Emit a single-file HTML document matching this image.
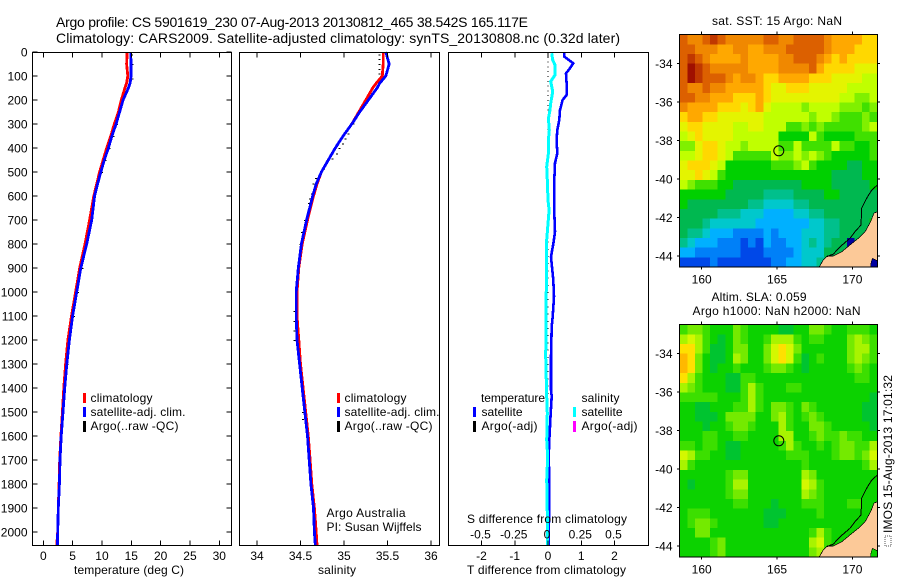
<!DOCTYPE html>
<html lang="en">
<head>
<meta charset="utf-8">
<title>Argo profile 5901619_230</title>
<style>
html,body{margin:0;padding:0;background:#fff;}
svg{display:block;font-family:"Liberation Sans",Arial,sans-serif;font-size:12px;fill:#000;}
text{fill:#000;}
</style>
</head>
<body>
<svg id="fig" width="900" height="580" viewBox="0 0 900 580" xmlns="http://www.w3.org/2000/svg">
<rect width="900" height="580" fill="#fff"/>
<text x="56" y="27" font-size="14" textLength="472">Argo profile: CS 5901619_230 07-Aug-2013 20130812_465 38.542S 165.117E</text>
<text x="56" y="43" font-size="14" textLength="564">Climatology: CARS2009. Satellite-adjusted climatology: synTS_20130808.nc (0.32d later)</text>
<g id="plots"></g>

<text x="74" y="574" textLength="110">temperature (deg C)</text>
<text x="318" y="574" textLength="38">salinity</text>
<text x="467" y="574" textLength="159">T difference from climatology</text>
<text x="467" y="523" textLength="160">S difference from climatology</text>

<g>
<rect x="83" y="393" width="3" height="10" fill="#f00"/>
<text x="90.5" y="402" textLength="62">climatology</text>
<rect x="83" y="407" width="3" height="10" fill="#00f"/>
<text x="90.5" y="416" textLength="95">satellite-adj. clim.</text>
<rect x="83" y="421" width="3" height="11" fill="#000"/>
<text x="90.5" y="430" textLength="88">Argo(..raw -QC)</text>
</g>
<g>
<rect x="337" y="393" width="3" height="10" fill="#f00"/>
<text x="344.5" y="402" textLength="62">climatology</text>
<rect x="337" y="407" width="3" height="10" fill="#00f"/>
<text x="344.5" y="416" textLength="95">satellite-adj. clim.</text>
<rect x="337" y="421" width="3" height="11" fill="#000"/>
<text x="344.5" y="430" textLength="88">Argo(..raw -QC)</text>
</g>
<g>
<text x="481" y="402" textLength="64">temperature</text>
<rect x="473" y="407" width="3" height="10" fill="#00f"/>
<text x="481.5" y="416" textLength="41">satellite</text>
<rect x="473" y="421" width="3" height="11" fill="#000"/>
<text x="481.5" y="430" textLength="56">Argo(-adj)</text>
<text x="581.5" y="402" textLength="38">salinity</text>
<rect x="573" y="407" width="3" height="10" fill="#0ff"/>
<text x="581.5" y="416" textLength="41">satellite</text>
<rect x="573" y="421" width="3" height="11" fill="#f0f"/>
<text x="581.5" y="430" textLength="56">Argo(-adj)</text>
</g>

<text x="326.5" y="517" textLength="79">Argo Australia</text>
<text x="326.5" y="531" textLength="95">PI: Susan Wijffels</text>

<text x="712" y="25" textLength="130">sat. SST: 15 Argo: NaN</text>
<text x="711.5" y="301" textLength="95">Altim. SLA: 0.059</text>
<text x="692.5" y="315" textLength="168">Argo h1000: NaN h2000: NaN</text>

<rect x="885" y="536" width="6" height="10" fill="none" stroke="#555" stroke-width="1" stroke-dasharray="1 1"/>
<text transform="translate(892,533) rotate(-90)" textLength="158">IMOS 15-Aug-2013 17:01:32</text>
</svg>

<script>
// ---- profile data ----
const profDepth = [0,50,100,130,150,200,250,300,350,400,450,500,550,600,700,800,900,1000,1100,1200,1300,1400,1500,1600,1700,1800,1900,2000,2054];
const tempClim = [14.3,14.2,14.4,14.2,13.9,13.3,12.8,12.1,11.5,10.8,10.2,9.6,9.1,8.6,7.9,7.1,6.2,5.5,4.8,4.2,3.8,3.5,3.25,3.0,2.8,2.7,2.55,2.45,2.3];
const tempSat = [14.9,14.95,14.95,14.8,14.5,13.6,13.0,12.4,11.7,11.1,10.4,9.8,9.25,8.75,8.25,7.4,6.4,5.7,5.0,4.45,4.0,3.65,3.35,3.05,2.85,2.75,2.55,2.45,2.4];
const salClim = [35.45,35.45,35.44,35.37,35.33,35.25,35.17,35.09,34.99,34.9,34.82,34.74,34.69,34.65,34.58,34.52,34.48,34.46,34.46,34.48,34.5,34.53,34.56,34.59,34.61,34.63,34.66,34.68,34.69];
const salSat = [35.48,35.52,35.48,35.41,35.38,35.28,35.18,35.09,34.99,34.9,34.82,34.74,34.68,34.64,34.57,34.51,34.475,34.45,34.45,34.46,34.49,34.52,34.55,34.58,34.6,34.62,34.65,34.66,34.67];

const argoTempDepth = [10,50,110,130,160,240,300,350,400,450,500,550,600,900,1000,1100,1300,1500,1520];
const argoTemp = [15.1,15.2,15.2,14.9,14.3,13.2,12.6,12.0,11.3,10.6,10.0,9.2,8.7,6.7,5.9,5.2,4.1,3.3,3.3];
const argoSalDepth = [10,30,50,70,90,158,175,193,218,256,276,297,339,360,381,401,422,443,485,526,547,589,610,630,700,750,800,1080,1120,1160,1200,1500,1530];
const argoSal = [35.41,35.41,35.41,35.41,35.41,35.36,35.29,35.26,35.23,35.16,35.14,35.11,35.05,35.02,34.99,34.95,34.92,34.87,34.77,34.68,34.65,34.63,34.61,34.6,34.55,34.52,34.5,34.43,34.43,34.43,34.43,34.53,34.53];

const tDiffDepth = [5,19,47,68,89,130,179,200,242,283,325,367,422,463,533,617,670,749,800,853,950,1019,1103,1144,1270,1408,1435,1504,1617,1686,1783,1921,1992,2054];
const tDiff = [0.49,0.49,0.76,0.66,0.54,0.56,0.56,0.44,0.36,0.34,0.28,0.26,0.28,0.21,0.19,0.19,0.19,0.21,0.16,0.09,0.16,0.18,0.14,0.11,0.09,0.09,0.11,0.08,0.04,0.02,0.04,0.04,0.02,0.02];
const sDiffDepth = [5,33,54,96,123,165,214,242,277,325,367,422,478,533,617,658,783,1270,1435,1504,1617,1686,1783,1921,1992,2054];
const sDiff = [0.028,0.035,0.053,0.053,0.02,0.035,0.02,0.015,0.003,0.01,0.003,0.003,-0.01,-0.005,0,0.008,-0.01,-0.017,-0.01,-0.005,-0.01,-0.002,-0.01,-0.005,-0.002,-0.002];
const argoDiffDepth = [20,40,60,80,100,120,140,160,180,200,220,240,260,280,300,320,340,360,380,400,430,460,490,520,550,580,610,640,670,700,730,760,790,820,850,880,910,940,970,1000,1030,1060,1090,1120,1150,1180,1210,1240,1270,1300,1330,1360,1390,1420,1450,1480,1510,1540,1570,1600,1630,1660,1690,1720,1750,1780,1810,1840,1870,1900,1930,1960,1990];
const argoDiff = [0,0,0,0,0,0,0,0,0,0,0,0,0,0,0,0,0,0,0,0,0,0,0,0,0,0,0,0,0,0,0,0,0,0,0,0,0,0,0,0,0,0,0,0,0,0,0,0,0,0,0,0,0,0,0,0,0,0,0,0,0,0,0,0,0,0,0,0,0,0,0,0,0];

// ---- tick labels ----
const depthTicks = [0,100,200,300,400,500,600,700,800,900,1000,1100,1200,1300,1400,1500,1600,1700,1800,1900,2000];
const tempTicks = [0,5,10,15,20,25,30];
const salTicks = [34,34.5,35,35.5,36];
const tDiffTicks = [-2,-1,0,1,2];
const sDiffTicks = [-0.5,-0.25,0,0.25,0.5];
const lonTicks = [160,165,170];
const latTicks = [-34,-36,-38,-40,-42,-44];

// ---- map grids: each character is a colour level (base 36 index into the palette) ----
const sstRows = [
"feefgfeeeeeffeeffffeddddcc",
"ffeeeddeeddeeefffffedddccc",
"fgfeddddeddddeefffedcdcccc",
"fhgfeeeeeddddeeeefdccccbbb",
"fhgfffedeedccddddcccbbbbaa",
"feefeedddddcbbcccbbbbbaaaa",
"ffeedddcccdcbbbbbbbbbaa99a",
"eddddcccbcdbaaaa9aaaa99989",
"cddccbbbbbbaaaaaa9aa988898",
"bccbbbbaabbaaa88989888889a",
"abcbbbbaaaaaa7777a87777888",
"99bccbaa9aaaa88a8888a88778",
"aabccba88888a99a9a98777778",
"bcccba7777778889a877776677",
"bbcba877777777777777666677",
"a9888776666666667777666667",
"77777766666555566667766666",
"76666666655444455666666666",
"66666555444333344556666666",
"66654444443333333445566667",
"65543332222323334445566666",
"54333222121322334545660666",
"33222222111222234446666666",
"11112111111122334455666666"
];
const slaRows = [
"89987779877776677998778887",
"aba876798778aaa87887779a98",
"cca866799779bcb97777779aa8",
"dc97667a9779bcb86787779a98",
"dc976778777899876777778987",
"ca877766887777777777777887",
"a98777668a8777887777777777",
"888887778a8777777777777776",
"776677788a8799879877777766",
"7766679999779a878987777766",
"7776778998777a877998777776",
"7778877887777aa77898898877",
"88788766777778a8778789988a",
"ba88776677777788877789989b",
"a877777777777777877777778a",
"7777778997777777a977777777",
"7677778aa7777777ba87777777",
"7777778997777777a987777777",
"77777778877767778887778877",
"78887777777666777787777777",
"78998777777667777777777777",
"779977777777777778a8777777",
"77778977777777777ab8777777",
"777789777777777779a8777777"
];
const sstPalette = ["#0000a0","#0048e8","#0080f8","#00b0ff","#00c8cc","#00c08c","#00b850","#00d000","#40e000","#80f000","#c0ff00","#e4f400","#ffd800","#ffa800","#f08800","#dc6000","#c03800","#a01000"];
const slaPalette = ["#0000a0","#0048e8","#0080f8","#00b0ff","#00c8cc","#00c08c","#00c430","#0cd200","#3cdf00","#74ea00","#a8f400","#d4f800","#ffe000","#ffb800","#f08800","#dc6000","#c03800","#a01000"];

// ---- coastline geometry (lon / lat) ----
const landLon = [167.80,168.07,168.33,168.73,169.29,169.84,170.39,170.84,171.21,171.43,171.65,171.65];
const landLat = [-44.57,-44.2,-44.0,-44.0,-43.78,-43.43,-43.08,-42.74,-42.22,-41.78,-41.7,-44.57];
const coastLon = [171.65,171.28,170.95,170.62,170.57,170.17,169.84,169.18,168.73,168.3];
const coastLat = [-40.32,-40.58,-41.0,-41.52,-42.39,-42.74,-43.08,-43.52,-43.9,-44.03];
const lakeLon = [171.2,171.25,171.35,171.65,171.65];
const lakeLat = [-44.57,-44.3,-44.12,-44.25,-44.57];
const floatLon = 165.117;
const floatLat = -38.542;

// ---- axis functions ----
function xT(v){ return 43.3 + v*5.867; }
function xS(v){ return 257 + (v-34)*87; }
function xD(v){ return 548 + v*33.25; }
function xSD(v){ return 548 + v*133; }
function yD(d){ return 52 + d*0.24; }
function xLon(l){ return 701.7 + (l-160)*15.07; }
function yLat(l, top){ return top + 28.6 + (-34-l)*19.27; }

const NS = "http://www.w3.org/2000/svg";
const plots = document.getElementById("plots");
function mk(tag, attrs, parent){
  const el = document.createElementNS(NS, tag);
  for (const k in attrs) el.setAttribute(k, attrs[k]);
  (parent||plots).appendChild(el);
  return el;
}
function group(name){
  const g = mk("g", {});
  
  
  return g;
}
function line(x1,y1,x2,y2,name,parent){
  const el = mk("line",{x1:x1,y1:y1,x2:x2,y2:y2,stroke:"#000","stroke-width":1,"shape-rendering":"crispEdges"},parent);
  
  
  return el;
}
function label(x,y,str,anchor,name,parent){
  const el = mk("text",{x:x,y:y,"text-anchor":anchor},parent);
  el.textContent = str;
  
  
  return el;
}
function frame(x,y,w,h,name,parent){
  const el = mk("rect",{x:x,y:y,width:w,height:h,fill:"none",stroke:"#000","stroke-width":1,"shape-rendering":"crispEdges"},parent);
  
  
  return el;
}
function curve(xs,ds,xf,color,width,name,parent){
  const pts = xs.map(function(v,i){ return xf(v).toFixed(1)+","+yD(ds[i]).toFixed(1); }).join(" ");
  const el = mk("polyline",{points:pts,fill:"none",stroke:color,"stroke-width":width,"shape-rendering":"crispEdges"},parent);
  
  
  return el;
}
function dashes(xs,ds,xf,w,name,parent){
  xs.forEach(function(v,i){
    const el = mk("rect",{x:(xf(v)-w/2).toFixed(1),y:yD(ds[i]).toFixed(1),width:w,height:1,fill:"#000","shape-rendering":"crispEdges"},parent);
    
    
  });
}
function xTicks(ticks,xf,left,right,prefix,parent){
  ticks.forEach(function(t){
    line(xf(t),52.5,xf(t),57.5,prefix+'-top-tick',parent);
    line(xf(t),545.5,xf(t),540.5,prefix+'-bottom-tick',parent);
    label(xf(t),560,String(t),"middle",prefix+'-tick-label',parent);
  });
}

// ---- temperature panel ----
const tempPanel = group('temperature-panel');
dashes(argoTemp,argoTempDepth,xT,2,'argo-temperature-sample',tempPanel);
curve(tempClim,profDepth,xT,"#f00",2.8,'temperature-climatology-line',tempPanel);
curve(tempSat,profDepth,xT,"#00f",2.8,'temperature-satellite-line',tempPanel);
frame(32.5,52.5,199,493,'temperature-plot-frame',tempPanel);
xTicks(tempTicks,xT,32,231,'temperature-x',tempPanel);
depthTicks.forEach(function(d){
  line(32.5,yD(d),37.5,yD(d),'depth-left-tick',tempPanel);
  line(226.5,yD(d),231.5,yD(d),'depth-right-tick',tempPanel);
  label(27.5,yD(d)+4.5,String(d),"end",'depth-tick-label',tempPanel);
});

// ---- salinity panel ----
const salPanel = group('salinity-panel');
dashes(argoSal,argoSalDepth,xS,2,'argo-salinity-sample',salPanel);
curve(salClim,profDepth,xS,"#f00",2.8,'salinity-climatology-line',salPanel);
curve(salSat,profDepth,xS,"#00f",2.8,'salinity-satellite-line',salPanel);
frame(239.5,52.5,200,493,'salinity-plot-frame',salPanel);
xTicks(salTicks,xS,239,439,'salinity-x',salPanel);

// ---- difference panel ----
const diffPanel = group('difference-panel');
dashes(argoDiff,argoDiffDepth,xD,1,'argo-difference-sample',diffPanel);
curve(tDiff,tDiffDepth,xD,"#00f",2.6,'t-difference-line',diffPanel);
curve(sDiff,sDiffDepth,xSD,"#0ff",3,'s-difference-line',diffPanel);
frame(448.5,52.5,200,493,'difference-plot-frame',diffPanel);
xTicks(tDiffTicks,xD,448,648,'t-difference-x',diffPanel);
sDiffTicks.forEach(function(s){
  label(xSD(s)-1,538.5,String(s),"middle",'s-difference-tick-label',diffPanel);
});

// ---- maps ----
function drawMap(rows,colors,top,lakeFill,prefix){
  const g = group(prefix+'-map');
  const cw = 197.6/26, ch = 232.3/24;
  rows.forEach(function(row,r){
    row.split("").forEach(function(c,i){
      const cell = mk("rect",{x:(679.7+i*cw).toFixed(2),y:(top+r*ch).toFixed(2),width:(cw+0.4).toFixed(2),height:(ch+0.4).toFixed(2),fill:colors[parseInt(c,36)],"shape-rendering":"crispEdges"},g);
      
      
    });
  });
  const landPts = landLon.map(function(l,i){ return xLon(l).toFixed(1)+","+yLat(landLat[i],top).toFixed(1); }).join(" ");
  const land = mk("polygon",{points:landPts,fill:"#fcc998","shape-rendering":"crispEdges"},g);
  
  
  const lakePts = lakeLon.map(function(l,i){ return xLon(l).toFixed(1)+","+yLat(lakeLat[i],top).toFixed(1); }).join(" ");
  const lake = mk("polygon",{points:lakePts,fill:lakeFill,stroke:"#000","stroke-width":0.6,"shape-rendering":"crispEdges"},g);
  
  
  const coastPts = coastLon.map(function(l,i){ return xLon(l).toFixed(1)+","+yLat(coastLat[i],top).toFixed(1); }).join(" ");
  const coast = mk("polyline",{points:coastPts,fill:"none",stroke:"#000","stroke-width":1,"shape-rendering":"crispEdges"},g);
  
  
  const edgePts = landLon.slice(0,11).map(function(l,i){ return xLon(l).toFixed(1)+","+yLat(landLat[i],top).toFixed(1); }).join(" ");
  const edge = mk("polyline",{points:edgePts,fill:"none",stroke:"#000","stroke-width":0.7,"shape-rendering":"crispEdges"},g);
  
  
  const marker = mk("circle",{cx:xLon(floatLon).toFixed(1),cy:yLat(floatLat,top).toFixed(1),r:5,fill:"none",stroke:"#000","stroke-width":1},g);
  
  
  frame(679.5,top-0.2,198,232.5,prefix+'-map-frame',g);
  lonTicks.forEach(function(l){
    line(xLon(l),top-3,xLon(l),top,prefix+'-lon-top-tick',g);
    line(xLon(l),top+232.3,xLon(l),top+235,prefix+'-lon-bottom-tick',g);
    label(xLon(l),top+248.6,String(l),"middle",prefix+'-lon-tick-label',g);
  });
  latTicks.forEach(function(l){
    line(677,yLat(l,top),679.5,yLat(l,top),prefix+'-lat-left-tick',g);
    line(877.5,yLat(l,top),880,yLat(l,top),prefix+'-lat-right-tick',g);
    label(672.5,yLat(l,top)+4.5,String(l),"end",prefix+'-lat-tick-label',g);
  });
}
drawMap(sstRows,sstPalette,34.7,"#0000a0",'sst');
drawMap(slaRows,slaPalette,324.7,"#0cd200",'sla');
</script>
</body>
</html>
